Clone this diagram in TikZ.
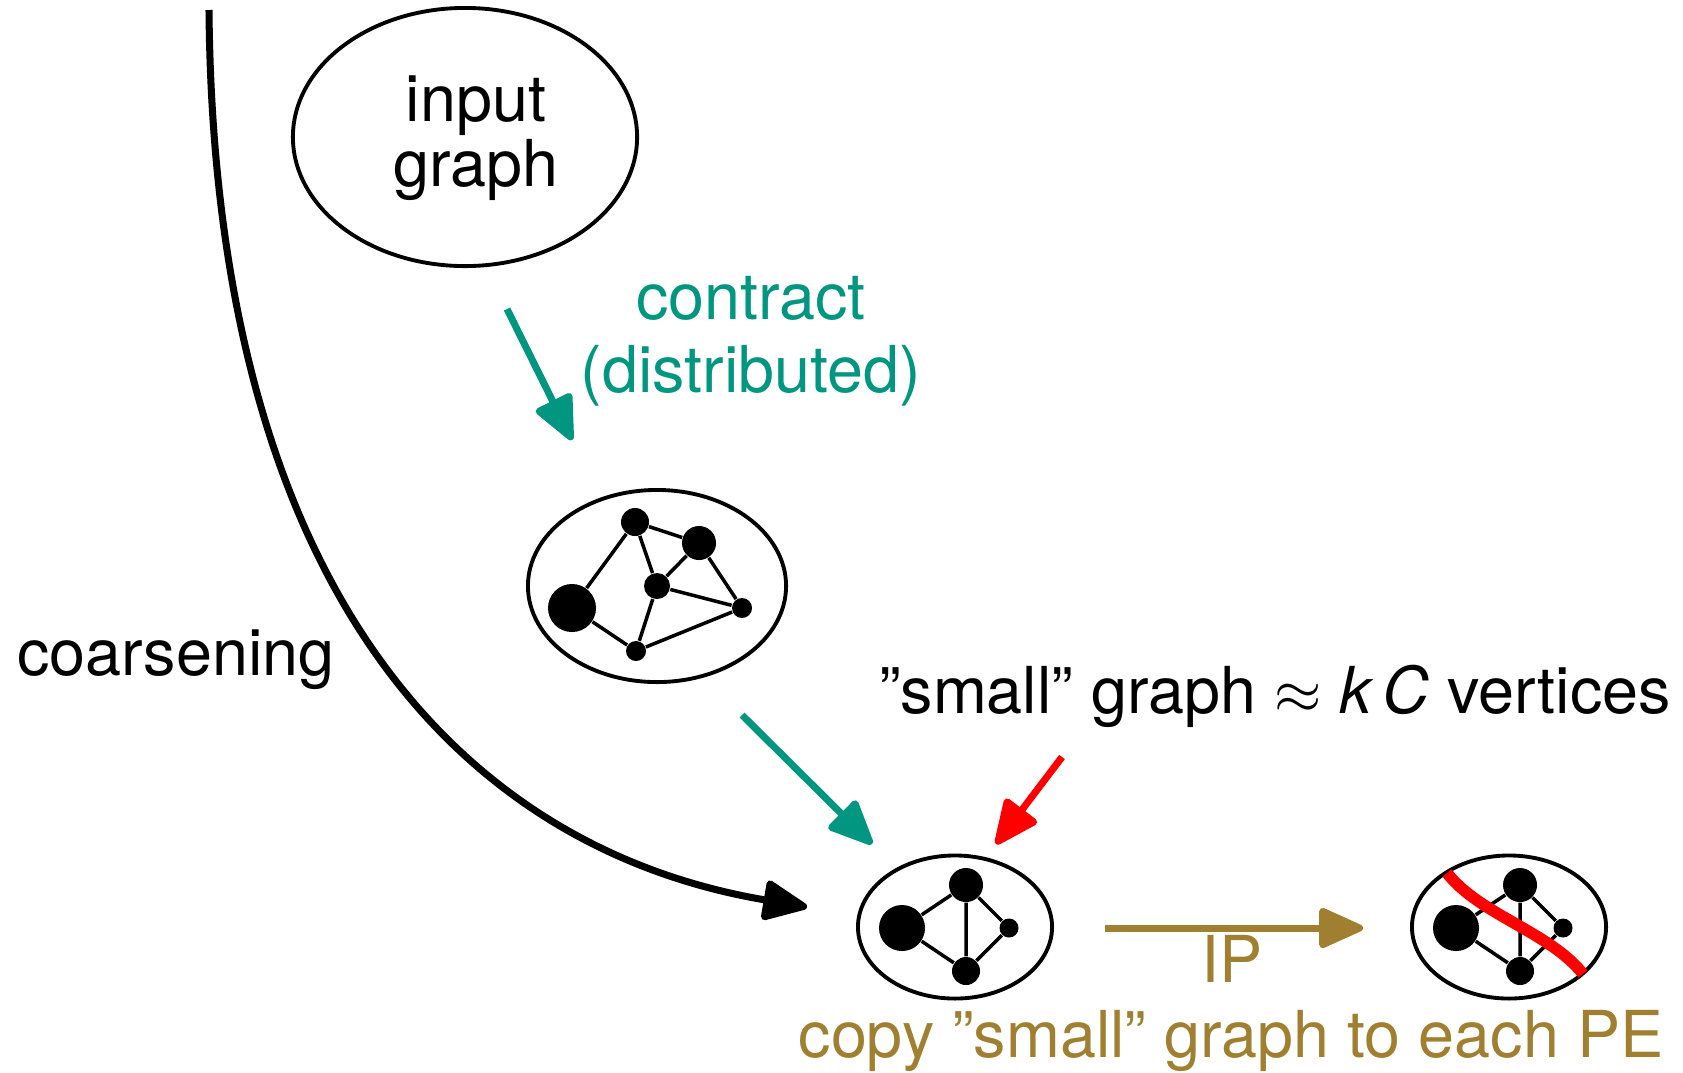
\documentclass[tikz,border=0pt]{standalone}
\usepackage{fontspec}
\setmainfont{TeX Gyre Heros}
\usepackage{tikz}
\usetikzlibrary{arrows.meta,shapes.geometric}
\definecolor{contractcol}{RGB}{0,150,128}
\definecolor{ipcol}{RGB}{160,128,48}

\begin{document}
\begin{tikzpicture}[x=0.01cm, y=-0.01cm,
  every node/.style={font=\fontsize{18.4}{20}\selectfont},
  blob/.style={draw, ellipse, line width=1.1pt, inner sep=0pt},
  vtx/.style={circle, fill, inner sep=0pt, minimum size=#1},
  link/.style={line width=1pt},
  flow/.style={line width=2pt, -{Triangle[length=14pt, width=12pt, round]}}]
  \useasboundingbox (0,0) rectangle (1683,1072);

  % input graph
  \node[blob, minimum width=3.44cm, minimum height=2.58cm] (ingraph) at (465,137) {};
  \node[anchor=base, align=center, font=\fontsize{18.4}{14.5}\selectfont] (inlabel) at (476,186) {input\\graph};

  % graph after one contraction
  \node[blob, minimum width=2.58cm, minimum height=1.92cm] (midgraph) at (657,586) {};
  \node[vtx=0.48cm] (m1) at (572,608) {};
  \node[vtx=0.28cm] (m2) at (635,522) {};
  \node[vtx=0.34cm] (m3) at (699,543) {};
  \node[vtx=0.26cm] (m4) at (657,586) {};
  \node[vtx=0.20cm] (m5) at (742,608) {};
  \node[vtx=0.20cm] (m6) at (636,651) {};
  \draw[link] (m1) -- (m2) (m1) -- (m6) (m2) -- (m3) (m2) -- (m4)
    (m3) -- (m4) (m3) -- (m5) (m4) -- (m5) (m4) -- (m6) (m6) -- (m5);

  % small graph
  \node[blob, minimum width=1.94cm, minimum height=1.43cm] (smallgraph) at (955,927) {};
  \node[vtx=0.46cm] (s1) at (902,928) {};
  \node[vtx=0.34cm] (s2) at (966,885) {};
  \node[vtx=0.28cm] (s3) at (966,971) {};
  \node[vtx=0.19cm] (s4) at (1009,928) {};
  \draw[link] (s1) -- (s2) (s1) -- (s3) (s2) -- (s3) (s2) -- (s4) (s3) -- (s4);

  % partitioned graph
  \node[blob, minimum width=1.94cm, minimum height=1.43cm] (partgraph) at (1509,927) {};
  \node[vtx=0.46cm] (p1) at (1456,928) {};
  \node[vtx=0.34cm] (p2) at (1520,885) {};
  \node[vtx=0.28cm] (p3) at (1520,971) {};
  \node[vtx=0.19cm] (p4) at (1563,928) {};
  \draw[link] (p1) -- (p2) (p1) -- (p3) (p2) -- (p3) (p2) -- (p4) (p3) -- (p4);
  \coordinate (cutA) at (1447,873);
  \coordinate (cutB) at (1583,974);
  \draw[red, line width=3.3pt] (cutA) .. controls (1480,915) and (1550,932) .. (cutB);

  % coarsening
  \coordinate (coarseA) at (209,10);
  \coordinate (coarseB) at (807,907);
  \draw[flow] (coarseA) .. controls (214,600) and (470,850) .. (coarseB);
  \node[anchor=base] (coarselabel) at (176,675) {coarsening};

  % contraction steps
  \coordinate (conA) at (507,309);
  \coordinate (conB) at (572,440);
  \coordinate (conC) at (742,715);
  \coordinate (conD) at (872,844);
  \draw[flow, contractcol] (conA) -- (conB);
  \draw[flow, contractcol] (conC) -- (conD);
  \node[anchor=base, align=center, text=contractcol, font=\fontsize{18.4}{20.5}\selectfont] (conlabel) at (751,392) {contract\\(distributed)};

  % small graph remark
  \coordinate (smallA) at (1062,757);
  \coordinate (smallB) at (996,844);
  \draw[flow, red] (smallA) -- (smallB);
  \node[anchor=base] (smalllabel) at (1275,713) {”small” graph $\approx$ \textit{k\,C} vertices};

  % initial partitioning
  \coordinate (ipA) at (1105,928);
  \coordinate (ipB) at (1363,928);
  \draw[flow, ipcol] (ipA) -- (ipB);
  \node[anchor=base, text=ipcol] (iplabel) at (1232,982) {IP};
  \node[anchor=base, text=ipcol] (copylabel) at (1231,1057) {copy ”small” graph to each PE};
\end{tikzpicture}
\end{document}
